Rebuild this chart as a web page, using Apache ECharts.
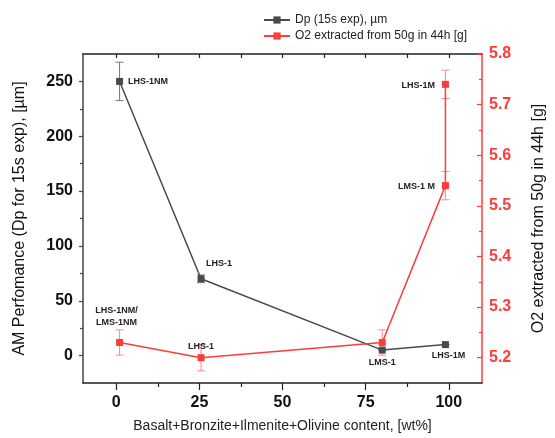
<!DOCTYPE html>
<html>
<head>
<meta charset="utf-8">
<script src="https://cdn.jsdelivr.net/npm/echarts@6/dist/echarts.min.js"></script>
<style>
html,body{margin:0;padding:0;background:#fff;}
#c{width:555px;height:438px;}
</style>
</head>
<body>
<div id="c"></div>
<script>
// ---- data ----
const dpX = [1, 25.5, 80, 99];
const dpY = [250, 70, 5, 10];
const dpLabels = ['LHS-1NM', 'LHS-1', 'LMS-1', 'LHS-1M'];
const dpErrLow = [232.5, 66.5, 5, 10];
const dpErrHigh = [267.5, 73.5, 5, 10];

const o2X = [1, 25.5, 80, 99, 99];
const o2Y = [5.23, 5.20, 5.23, 5.54, 5.74];
const o2Labels = ['LHS-1NM/\nLMS-1NM', 'LHS-1', '', 'LMS-1 M', 'LHS-1M'];
const o2ErrLow = [5.205, 5.174, 5.205, 5.512, 5.712];
const o2ErrHigh = [5.255, 5.226, 5.255, 5.568, 5.768];

const xMajorTicks = [0, 25, 50, 75, 100];
const xMinorTicks = [12.5, 37.5, 62.5, 87.5];
const xTopTicks = [0, 12.5, 25, 37.5, 50, 62.5, 75, 87.5, 100];
const yLeftMajor = [0, 50, 100, 150, 200, 250];
const yLeftMinor = [25, 75, 125, 175, 225];
const yRightMajor = [5.2, 5.3, 5.4, 5.5, 5.6, 5.7, 5.8];
const yRightMinor = [5.25, 5.35, 5.45, 5.55, 5.65, 5.75];

const seriesNames = ['Dp (15s exp), µm', 'O2 extracted from 50g in 44h [g]'];
const axisTitles = {
  x: 'Basalt+Bronzite+Ilmenite+Olivine content, [wt%]',
  yLeft: 'AM Perfomance (Dp for 15s exp), [µm]',
  yRight: 'O2 extracted from 50g in 44h [g]'
};

// ---- styles ----
const FONT = 'Liberation Sans, Arial, sans-serif';
const BLACK = '#4a4a4a';
const RED = '#ff3b3b';
const X_MIN = -10, X_MAX = 110;
const YL_MIN = -25, YL_MAX = 275;
const YR_MIN = 5.15, YR_MAX = 5.8;

const labelStyle = {fontFamily: FONT, fontSize: 9, fontWeight: 'bold', color: '#222'};

const dpLabelPos = [
  {position: 'right', distance: 5, offset: [0, 0]},
  {position: 'top', distance: 5, offset: [18, -2]},
  {position: 'bottom', distance: 5, offset: [0, -1]},
  {position: 'bottom', distance: 5, offset: [3, -2]}
];
const o2LabelPos = [
  {position: 'top', distance: 5, offset: [-3, -5]},
  {position: 'top', distance: 5, offset: [0, 3]},
  {position: 'top', distance: 5, offset: [0, 0]},
  {position: 'left', distance: 7, offset: [0, 1]},
  {position: 'left', distance: 7, offset: [0, 1]}
];

const dpData = dpX.map((x, i) => ({
  value: [x, dpY[i]],
  label: Object.assign({show: true, formatter: dpLabels[i]}, labelStyle, dpLabelPos[i])
}));
const o2Data = o2X.map((x, i) => ({
  value: [x, o2Y[i]],
  label: Object.assign({show: o2Labels[i] !== '', formatter: o2Labels[i], lineHeight: 12}, labelStyle, o2LabelPos[i])
}));
const dpErr = dpX.map((x, i) => [x, dpErrLow[i], dpErrHigh[i]]);
const o2Err = o2X.map((x, i) => [x, o2ErrLow[i], o2ErrHigh[i]]);

function errRender(params, api) {
  const x = api.value(0), lo = api.value(1), hi = api.value(2);
  const p1 = api.coord([x, lo]);
  const p2 = api.coord([x, hi]);
  const w = 4;
  const style = {stroke: api.visual('color'), lineWidth: 1, fill: null};
  return {
    type: 'group',
    children: [
      {type: 'line', shape: {x1: p1[0], y1: p1[1], x2: p2[0], y2: p2[1]}, style: style},
      {type: 'line', shape: {x1: p1[0] - w, y1: p1[1], x2: p1[0] + w, y2: p1[1]}, style: style},
      {type: 'line', shape: {x1: p2[0] - w, y1: p2[1], x2: p2[0] + w, y2: p2[1]}, style: style}
    ]
  };
}

const hiddenLabel = {show: false};
const noSplit = {show: false};

const option = {
  animation: false,
  backgroundColor: '#fff',
  textStyle: {fontFamily: FONT},
  legend: {
    orient: 'vertical',
    left: 258,
    top: 9,
    itemWidth: 26,
    itemHeight: 9,
    itemGap: 4,
    textStyle: {fontFamily: FONT, fontSize: 12, color: '#222'},
    data: seriesNames
  },
  grid: {left: 83, right: 67, top: 54, bottom: 53, containLabel: false},
  xAxis: [
    {
      type: 'value', position: 'bottom', min: X_MIN, max: X_MAX,
      name: axisTitles.x, nameLocation: 'middle', nameGap: 36,
      nameTextStyle: {fontFamily: FONT, fontSize: 14, color: '#222'},
      axisLine: {show: true, onZero: false, lineStyle: {color: '#222', width: 1.5}},
      axisTick: {show: true, inside: false, length: 7, customValues: xMajorTicks, lineStyle: {color: '#222', width: 1.2}},
      axisLabel: {show: true, customValues: xMajorTicks, margin: 12, fontFamily: FONT, fontSize: 16, fontWeight: 'bold', color: '#111'},
      splitLine: noSplit
    },
    {
      type: 'value', position: 'bottom', min: X_MIN, max: X_MAX,
      axisLine: {show: false, onZero: false},
      axisTick: {show: true, inside: false, length: 4, customValues: xMinorTicks, lineStyle: {color: '#222', width: 1.2}},
      axisLabel: hiddenLabel, splitLine: noSplit
    },
    {
      type: 'value', position: 'top', min: X_MIN, max: X_MAX,
      axisLine: {show: true, onZero: false, lineStyle: {color: '#222', width: 1.5}},
      axisTick: {show: true, inside: true, length: 4, customValues: xTopTicks, lineStyle: {color: '#222', width: 1.2}},
      axisLabel: hiddenLabel, splitLine: noSplit
    }
  ],
  yAxis: [
    {
      type: 'value', position: 'left', min: YL_MIN, max: YL_MAX,
      name: axisTitles.yLeft, nameLocation: 'middle', nameGap: 55,
      nameTextStyle: {fontFamily: FONT, fontSize: 16, color: '#111'},
      axisLine: {show: true, onZero: false, lineStyle: {color: '#444', width: 1.5}},
      axisTick: {show: true, inside: false, length: 4, customValues: yLeftMajor, lineStyle: {color: '#444', width: 1.2}},
      axisLabel: {show: true, customValues: yLeftMajor, margin: 10, fontFamily: FONT, fontSize: 16, fontWeight: 'bold', color: '#111'},
      splitLine: noSplit
    },
    {
      type: 'value', position: 'left', min: YL_MIN, max: YL_MAX,
      axisLine: {show: false, onZero: false},
      axisTick: {show: true, inside: false, length: 3, customValues: yLeftMinor, lineStyle: {color: '#444', width: 1.2}},
      axisLabel: hiddenLabel, splitLine: noSplit
    },
    {
      type: 'value', position: 'right', min: YR_MIN, max: YR_MAX,
      name: axisTitles.yRight, nameLocation: 'middle', nameGap: 49,
      nameTextStyle: {fontFamily: FONT, fontSize: 16, color: '#111'},
      axisLine: {show: true, onZero: false, lineStyle: {color: RED, width: 1.5}},
      axisTick: {show: true, inside: true, length: 5, customValues: yRightMajor, lineStyle: {color: RED, width: 1.2}},
      axisLabel: {show: true, customValues: yRightMajor, margin: 7, fontFamily: FONT, fontSize: 16, fontWeight: 'bold', color: RED,
        formatter: v => v.toFixed(1)},
      splitLine: noSplit
    },
    {
      type: 'value', position: 'right', min: YR_MIN, max: YR_MAX,
      axisLine: {show: false, onZero: false},
      axisTick: {show: true, inside: true, length: 3, customValues: yRightMinor, lineStyle: {color: RED, width: 1.2}},
      axisLabel: hiddenLabel, splitLine: noSplit
    }
  ],
  series: [
    {
      type: 'custom', name: 'dpErr', xAxisIndex: 0, yAxisIndex: 0,
      renderItem: errRender, data: dpErr, encode: {x: 0, y: [1, 2]},
      itemStyle: {color: '#777'}, z: 1, silent: true
    },
    {
      type: 'custom', name: 'o2Err', xAxisIndex: 0, yAxisIndex: 2,
      renderItem: errRender, data: o2Err, encode: {x: 0, y: [1, 2]},
      itemStyle: {color: '#ff8a8a'}, z: 1, silent: true
    },
    {
      type: 'line', name: seriesNames[0], xAxisIndex: 0, yAxisIndex: 0,
      data: dpData, symbol: 'rect', symbolSize: 7,
      lineStyle: {color: BLACK, width: 1.5}, itemStyle: {color: BLACK},
      z: 3
    },
    {
      type: 'line', name: seriesNames[1], xAxisIndex: 0, yAxisIndex: 2,
      data: o2Data, symbol: 'rect', symbolSize: 7,
      lineStyle: {color: RED, width: 1.5}, itemStyle: {color: RED},
      z: 4
    }
  ]
};

const chart = echarts.init(document.getElementById('c'), null, {renderer: 'canvas'});
chart.setOption(option);
</script>
</body>
</html>
